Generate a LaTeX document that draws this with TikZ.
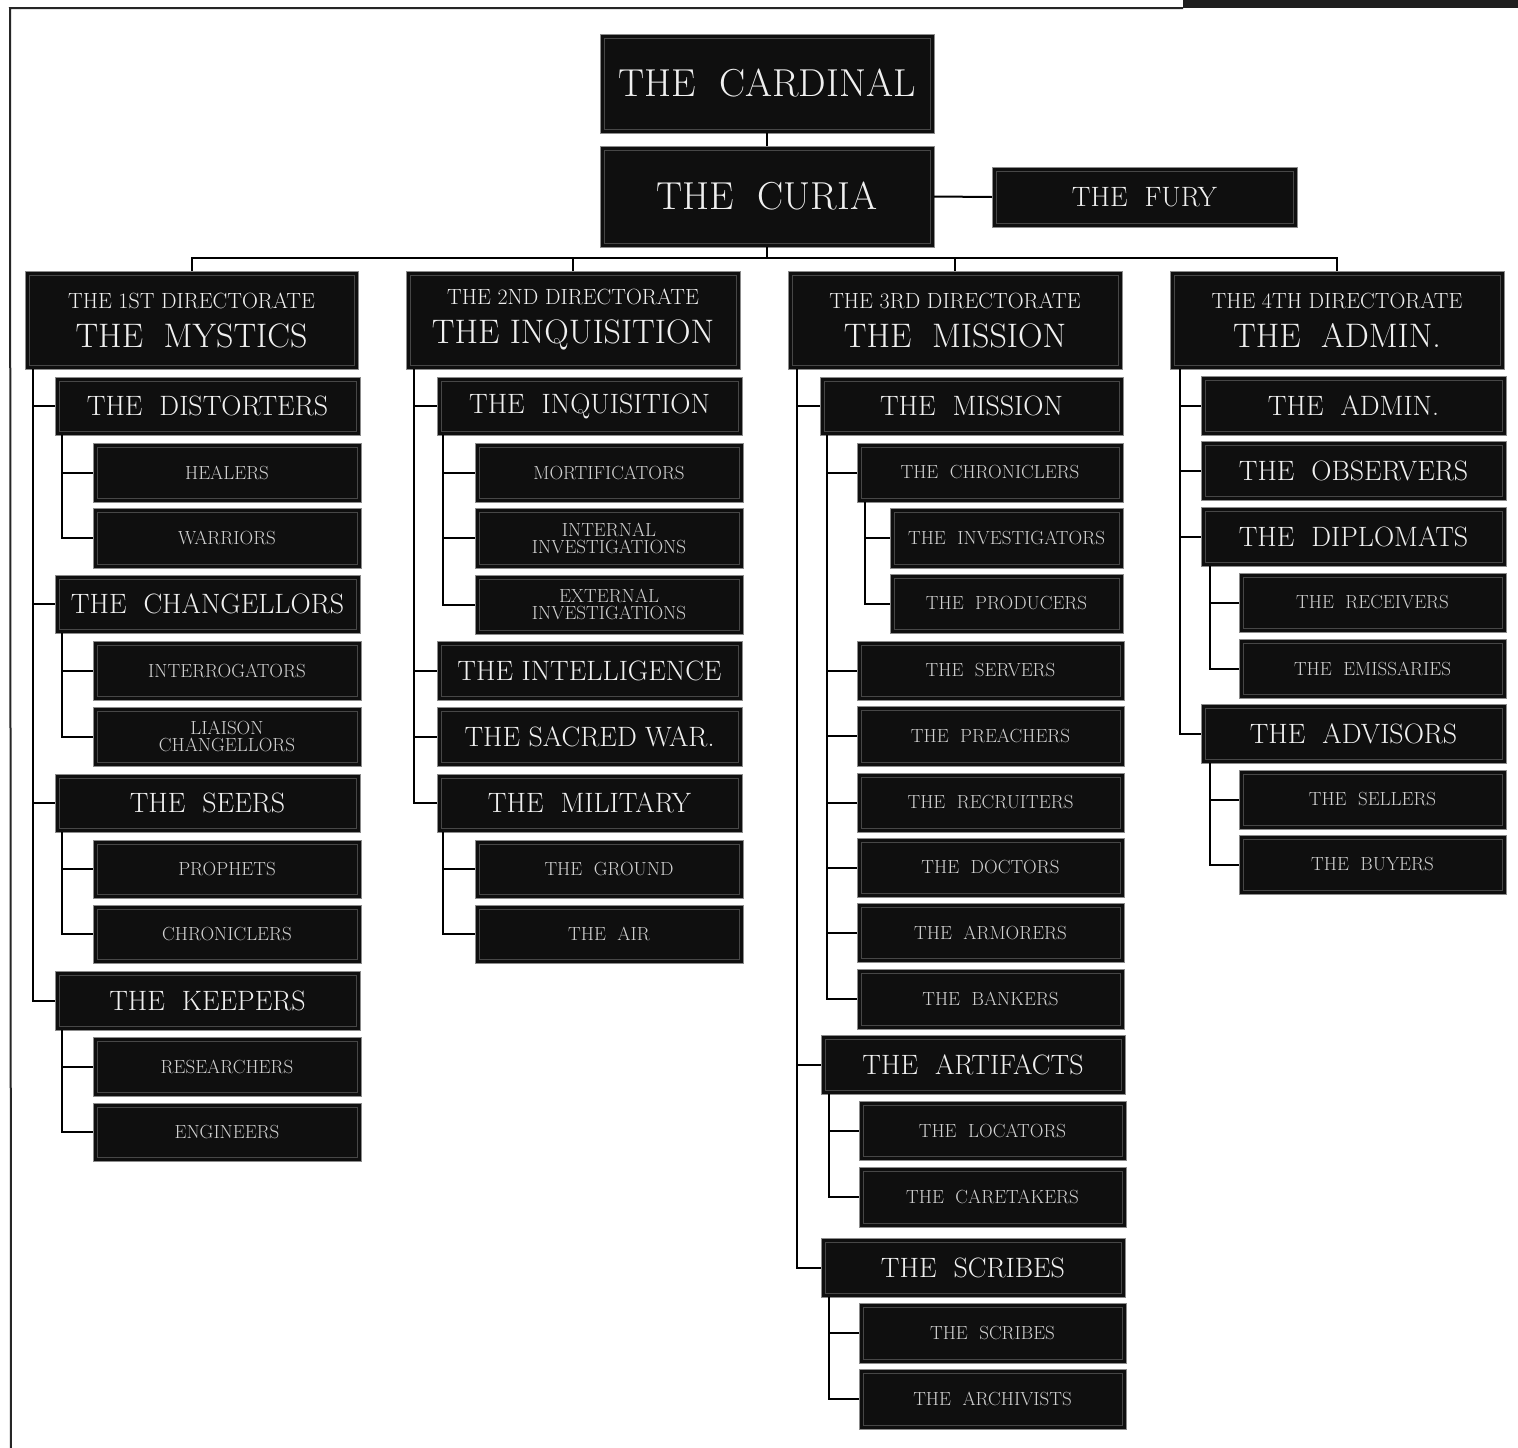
\documentclass[tikz,border=0pt]{standalone}
\usepackage{fontspec}
\begin{document}
\begin{tikzpicture}[x=1pt,y=-1pt,
  box/.style={draw=black!45, line width=0.8pt, fill=black!94, text=white!94!black,
    inner sep=0pt, outer sep=0pt, anchor=north west, align=center,
    path picture={\draw[black!72, line width=0.8pt]
      ([shift={(4pt,-4pt)}]path picture bounding box.north west) rectangle
      ([shift={(-4pt,4pt)}]path picture bounding box.south east);}},
  tA/.style={font=\fontsize{39}{41}\selectfont},
  tF/.style={font=\fontsize{28}{30}\selectfont},
  tD/.style={font=\fontsize{34}{38}\selectfont},
  tB/.style={font=\fontsize{28}{30}\selectfont},
  tC/.style={font=\fontsize{19}{21}\selectfont, text=white!82!black},
  tC2/.style={font=\fontsize{19}{20}\selectfont, text=white!82!black},
  conn/.style={draw=black, line width=2pt},
  frame/.style={draw=black!85, line width=2pt}]
\newcommand{\bx}[7]{\node[box,#6,minimum width={(#4-#2)*1pt},minimum height={(#5-#3)*1pt}] (#1) at (#2,#3) {#7};}
\newcommand{\dirtext}[2]{{\fontsize{22}{24}\selectfont #1}\\[1pt]#2}
\newcommand{\kids}[3]{\foreach \c in {#3}{\draw[conn] ([xshift=#2]#1.south west) |- (\c.west);}}

% canvas and frame
\fill[white] (0,0) rectangle (1518,1448);
\useasboundingbox (0,0) rectangle (1518,1448);
\fill[black!88] (1183,0) rectangle (1518,8);
\draw[frame] (1183,8) -- (10,8) -- (11,1448);

% top
\bx{cardinal}{600}{34}{934}{133}{tA}{THE\ \ CARDINAL}
\bx{curia}{600}{146}{934}{247}{tA}{THE\ \ CURIA}
\bx{fury}{992}{167}{1297}{227}{tF}{THE\ \ FURY}

% directorates
\bx{dA}{25}{271}{358}{369}{tD}{\dirtext{THE 1ST DIRECTORATE}{THE\ \ MYSTICS}}
\bx{dB}{406}{271}{740}{369}{tD}{\dirtext{THE 2ND DIRECTORATE}{THE INQUISITION}}
\bx{dC}{788}{271}{1122}{369}{tD}{\dirtext{THE 3RD DIRECTORATE}{THE\ \ MISSION}}
\bx{dD}{1170}{271}{1504}{369}{tD}{\dirtext{THE 4TH DIRECTORATE}{THE\ \ ADMIN.}}

% column 1
\bx{a1}{55}{377}{360}{435}{tB}{THE\ \ DISTORTERS}
\bx{a11}{93}{443}{361}{502}{tC}{HEALERS}
\bx{a12}{93}{508}{361}{568}{tC}{WARRIORS}
\bx{a2}{55}{575}{360}{633}{tB}{THE\ \ CHANGELLORS}
\bx{a21}{93}{641}{361}{700}{tC}{INTERROGATORS}
\bx{a22}{93}{707}{361}{766}{tC2}{LIAISON\\[-3pt]CHANGELLORS}
\bx{a3}{55}{774}{360}{832}{tB}{THE\ \ SEERS}
\bx{a31}{93}{840}{361}{898}{tC}{PROPHETS}
\bx{a32}{93}{905}{361}{963}{tC}{CHRONICLERS}
\bx{a4}{55}{971}{360}{1030}{tB}{THE\ \ KEEPERS}
\bx{a41}{93}{1037}{361}{1096}{tC}{RESEARCHERS}
\bx{a42}{93}{1103}{361}{1161}{tC}{ENGINEERS}

% column 2
\bx{b1}{437}{377}{742}{435}{tB}{THE\ \ INQUISITION}
\bx{b11}{475}{443}{743}{502}{tC}{MORTIFICATORS}
\bx{b12}{475}{508}{743}{568}{tC2}{INTERNAL\\[-3pt]INVESTIGATIONS}
\bx{b13}{475}{575}{743}{634}{tC2}{EXTERNAL\\[-3pt]INVESTIGATIONS}
\bx{b2}{437}{641}{742}{700}{tB}{THE INTELLIGENCE}
\bx{b3}{437}{707}{742}{766}{tB}{THE SACRED WAR.}
\bx{b4}{437}{774}{742}{832}{tB}{THE\ \ MILITARY}
\bx{b41}{475}{840}{743}{898}{tC}{THE\ \ GROUND}
\bx{b42}{475}{905}{743}{963}{tC}{THE\ \ AIR}

% column 3
\bx{c1}{820}{377}{1123}{435}{tB}{THE\ \ MISSION}
\bx{c11}{857}{443}{1123}{502}{tC}{THE\ \ CHRONICLERS}
\bx{c111}{890}{508}{1123}{568}{tC}{THE\ \ INVESTIGATORS}
\bx{c112}{890}{574}{1123}{633}{tC}{THE\ \ PRODUCERS}
\bx{c12}{857}{641}{1124}{700}{tC}{THE\ \ SERVERS}
\bx{c13}{857}{706}{1124}{766}{tC}{THE\ \ PREACHERS}
\bx{c14}{857}{773}{1124}{832}{tC}{THE\ \ RECRUITERS}
\bx{c15}{857}{838}{1124}{897}{tC}{THE\ \ DOCTORS}
\bx{c16}{857}{903}{1124}{962}{tC}{THE\ \ ARMORERS}
\bx{c17}{857}{969}{1124}{1029}{tC}{THE\ \ BANKERS}
\bx{c2}{821}{1035}{1125}{1094}{tB}{THE\ \ ARTIFACTS}
\bx{c21}{859}{1101}{1126}{1160}{tC}{THE\ \ LOCATORS}
\bx{c22}{859}{1167}{1126}{1227}{tC}{THE\ \ CARETAKERS}
\bx{c3}{821}{1238}{1125}{1297}{tB}{THE\ \ SCRIBES}
\bx{c31}{859}{1303}{1126}{1363}{tC}{THE\ \ SCRIBES}
\bx{c32}{859}{1369}{1126}{1429}{tC}{THE\ \ ARCHIVISTS}

% column 4
\bx{e1}{1201}{376}{1506}{435}{tB}{THE\ \ ADMIN.}
\bx{e2}{1201}{441}{1506}{500}{tB}{THE\ \ OBSERVERS}
\bx{e3}{1201}{507}{1506}{566}{tB}{THE\ \ DIPLOMATS}
\bx{e31}{1239}{573}{1506}{632}{tC}{THE\ \ RECEIVERS}
\bx{e32}{1239}{639}{1506}{698}{tC}{THE\ \ EMISSARIES}
\bx{e4}{1201}{704}{1506}{763}{tB}{THE\ \ ADVISORS}
\bx{e41}{1239}{770}{1506}{829}{tC}{THE\ \ SELLERS}
\bx{e42}{1239}{835}{1506}{894}{tC}{THE\ \ BUYERS}

% top connectors
\draw[conn] (cardinal.south) -- (curia.north);
\draw[conn] (curia.east) -- (fury.west);
\coordinate (bus) at (767,258);
\draw[conn] (curia.south) -- (bus);
\draw[conn] (dA.north) |- (bus) -| (dD.north);
\draw[conn] (dB.north) -- (dB.north |- bus);
\draw[conn] (dC.north) -- (dC.north |- bus);

% tree connectors
\kids{dA}{8pt}{a1,a2,a3,a4}
\kids{a1}{7pt}{a11,a12}
\kids{a2}{7pt}{a21,a22}
\kids{a3}{7pt}{a31,a32}
\kids{a4}{7pt}{a41,a42}
\kids{dB}{8pt}{b1,b2,b3,b4}
\kids{b1}{6pt}{b11,b12,b13}
\kids{b4}{6pt}{b41,b42}
\kids{dC}{9pt}{c1,c2,c3}
\kids{c1}{7pt}{c11,c12,c13,c14,c15,c16,c17}
\kids{c11}{8pt}{c111,c112}
\kids{c2}{8pt}{c21,c22}
\kids{c3}{8pt}{c31,c32}
\kids{dD}{10pt}{e1,e2,e3,e4}
\kids{e3}{9pt}{e31,e32}
\kids{e4}{9pt}{e41,e42}
\end{tikzpicture}
\end{document}
